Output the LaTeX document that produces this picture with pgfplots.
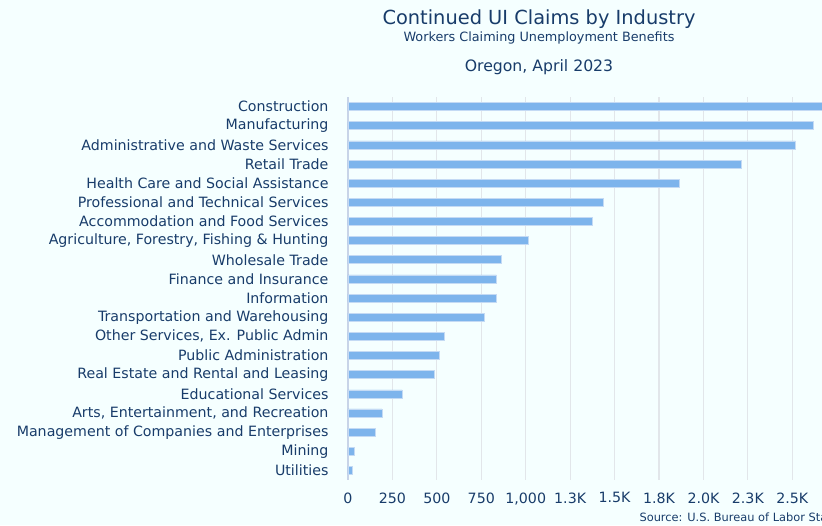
\documentclass[border=0pt]{standalone}
\usepackage{fontspec}
\setmainfont{DejaVu Sans}
\usepackage{pgfplots}
\pgfplotsset{compat=1.18}

\definecolor{bgcol}{RGB}{245,255,255}
\definecolor{barcol}{RGB}{125,180,236}
\definecolor{baredge}{RGB}{196,218,244}
\definecolor{txtcol}{RGB}{24,60,106}
\definecolor{gridcol}{RGB}{226,230,234}
\definecolor{axcol}{RGB}{200,212,232}

\begin{document}
\begin{tikzpicture}
\fill[bgcol] (0,0) rectangle (822pt,525pt);
\begin{axis}[
    at={(348pt,45pt)}, anchor=south west,
    scale only axis, width=474pt, height=383pt,
    xbar, bar width=8pt,
    xmin=0, xmax=2667,
    ymin=-0.5, ymax=19.5, y dir=reverse,
    xtick={0,250,500,750,1000,1250,1500,1750,2000,2250,2500},
    xticklabels={0,250,500,750,{1,000},1.3K,1.5K,1.8K,2.0K,2.3K,2.5K},
    ytick={0,...,19},
    yticklabels={Construction,Manufacturing,Administrative and Waste Services,Retail Trade,
        Health Care and Social Assistance,Professional and Technical Services,
        Accommodation and Food Services,{Agriculture, Forestry, Fishing \& Hunting},
        Wholesale Trade,Finance and Insurance,Information,Transportation and Warehousing,
        {Other Services, Ex. Public Admin},Public Administration,Real Estate and Rental and Leasing,
        Educational Services,{Arts, Entertainment, and Recreation},
        Management of Companies and Enterprises,Mining,Utilities},
    major tick length=0pt,
    xmajorgrids, grid style={gridcol, line width=1.2pt},
    axis lines*=left, axis line style={-},
    x axis line style={draw=none},
    y axis line style={draw=axcol, line width=1.2pt},
    ticklabel style={font=\fontsize{14.2}{16}\selectfont, text=txtcol},
    xticklabel style={yshift=-9pt},
    yticklabel style={xshift=-16pt},
]
\addplot[fill=barcol, draw=baredge, line width=0.6pt] coordinates {
    (2700,0) (2618,1) (2517,2) (2213,3) (1864,4) (1436,5) (1376,6) (1015,7)
    (865,8) (835,9) (835,10) (767,11) (542,12) (514,13) (484,14) (304,15)
    (191,16) (154,17) (34,18) (26,19)
};
\end{axis}
\node[text=txtcol, font=\fontsize{19.4}{22}\selectfont] at (539pt,506pt) {Continued UI Claims by Industry};
\node[text=txtcol, font=\fontsize{12.8}{15}\selectfont] at (539pt,487.5pt) {Workers Claiming Unemployment Benefits};
\node[text=txtcol, font=\fontsize{15.7}{18}\selectfont] at (539pt,457.5pt) {Oregon, April 2023};
\node[text=txtcol, anchor=west, font=\fontsize{11.4}{13}\selectfont] at (636pt,8pt) {Source: U.S. Bureau of Labor Statistics};
\pgfresetboundingbox
\useasboundingbox (0,0) rectangle (822pt,525pt);
\end{tikzpicture}
\end{document}
